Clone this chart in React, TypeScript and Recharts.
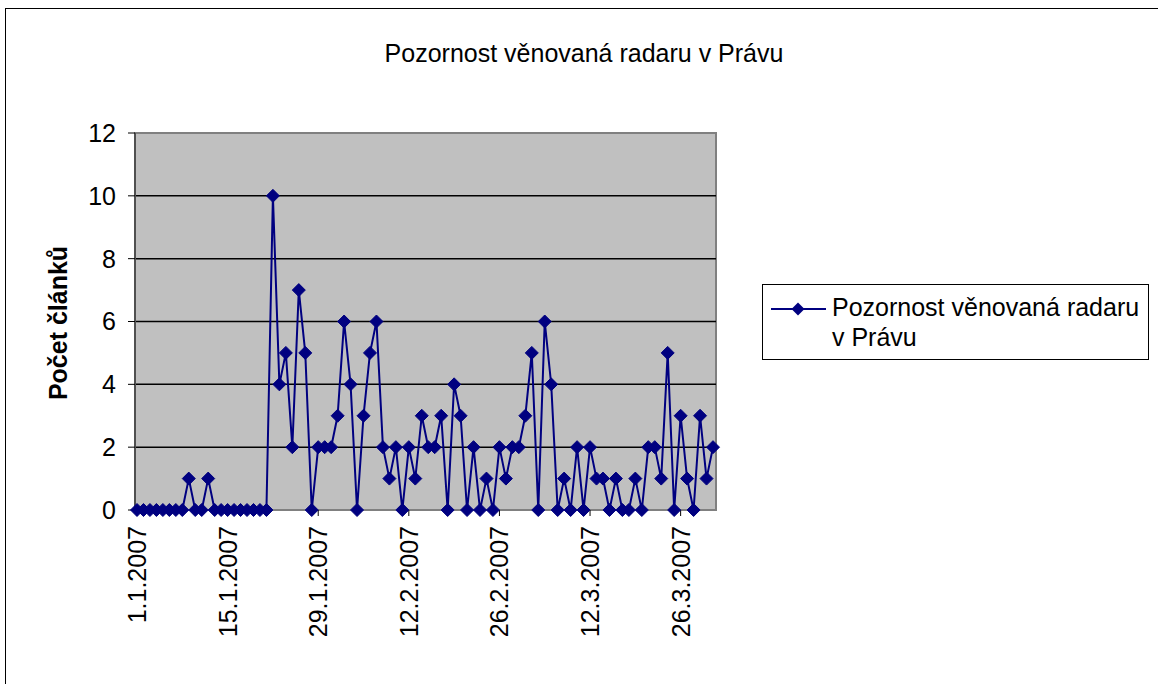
import { LineChart, Line, XAxis, YAxis, CartesianGrid, Legend } from "recharts";

const monthLengths = [31, 28, 31];
const dates: string[] = [];
monthLengths.forEach((len, m) => {
  for (let d = 1; d <= len; d++) dates.push(`${d}.${m + 1}.2007`);
});

// articles per day, 1.1.2007 - 31.3.2007
const counts = [
  0, 0, 0, 0, 0, 0, 0, 0, 1, 0, 0, 1, 0, 0, 0, 0, 0, 0, 0, 0, 0,
  10, 4, 5, 2, 7, 5, 0, 2, 2, 2,
  3, 6, 4, 0, 3, 5, 6, 2, 1, 2,
  0, 2, 1, 3, 2, 2, 3, 0, 4, 3,
  0, 2, 0, 1, 0, 2, 1, 2, 2, 3,
  5, 0, 6, 4, 0, 1, 0, 2, 0, 2,
  1, 1, 0, 1, 0, 0, 1, 0, 2, 2,
  1, 5, 0, 3, 1, 0, 3, 1, 2,
];

const dateTicks = ["1.1.2007", "15.1.2007", "29.1.2007", "12.2.2007", "26.2.2007", "12.3.2007", "26.3.2007"];
const yTicks = [0, 2, 4, 6, 8, 10, 12];
const gridValues = [2, 4, 6, 8, 10];
const seriesName = "Pozornost věnovaná radaru v Právu";
const yLabel = "Počet článků";

const data = dates.map((date, i) => ({ date, count: counts[i] }));

const NAVY = "#000080";
const FONT = "'Liberation Sans', Arial, sans-serif";

const Diamond = (props: any) => {
  const { cx, cy, index } = props;
  const r = 6.5;
  return (
    <polygon
      key={index}
      points={`${cx},${cy - r} ${cx + r},${cy} ${cx},${cy + r} ${cx - r},${cy}`}
      fill={NAVY}
      stroke={NAVY}
      strokeWidth={1}
    />
  );
};

const DateTick = (props: any) => {
  const { x, y, payload } = props;
  return (
    <text
      x={x}
      y={y}
      transform={`rotate(-90, ${x}, ${y})`}
      textAnchor="end"
      dy="0.36em"
      fontSize={25}
      fill="#000"
    >
      {payload.value}
    </text>
  );
};

const renderLegend = () => (
  <div
    style={{
      width: 387,
      height: 76,
      boxSizing: "border-box",
      border: "1.5px solid #000",
      background: "#fff",
      position: "relative",
    }}
  >
    <svg width={60} height={40} style={{ position: "absolute", left: 7, top: 4 }}>
      <line x1={1} y1={20} x2={56} y2={20} stroke={NAVY} strokeWidth={2} />
      <polygon points="28,13.5 34.5,20 28,26.5 21.5,20" fill={NAVY} />
    </svg>
    <div
      style={{
        position: "absolute",
        left: 69,
        top: 7,
        width: 314,
        fontSize: 25,
        lineHeight: "30px",
        color: "#000",
      }}
    >
      {seriesName}
    </div>
  </div>
);

export default function App() {
  return (
    <div
      style={{
        position: "absolute",
        left: 0,
        top: 0,
        width: 1158,
        height: 684,
        overflow: "hidden",
        background: "#fff",
        fontFamily: FONT,
      }}
    >
      <div
        style={{
          position: "absolute",
          left: 5,
          top: 8,
          width: 1170,
          height: 700,
          border: "1.5px solid #000",
        }}
      />
      <div
        style={{
          position: "absolute",
          left: 0,
          width: 1168,
          top: 38,
          textAlign: "center",
          fontSize: 25,
          lineHeight: "30px",
          color: "#000",
        }}
      >
        {seriesName}
      </div>
      <div
        style={{
          position: "absolute",
          left: 134,
          top: 132,
          width: 583,
          height: 379,
          boxSizing: "border-box",
          background: "#C0C0C0",
          border: "2px solid #808080",
        }}
      />
      <div
        style={{
          position: "absolute",
          left: 58,
          top: 323,
          transform: "translate(-50%, -50%) rotate(-90deg)",
          fontSize: 25,
          fontWeight: "bold",
          whiteSpace: "nowrap",
          color: "#000",
        }}
      >
        {yLabel}
      </div>
      <div style={{ position: "absolute", left: 0, top: 0 }}>
        <LineChart
          width={1158}
          height={684}
          data={data}
          margin={{ top: 133, right: 442, bottom: 54, left: 75 }}
        >
          <CartesianGrid
            horizontal
            vertical={false}
            horizontalValues={gridValues}
            stroke="#000"
            strokeWidth={1.5}
          />
          <XAxis
            dataKey="date"
            ticks={dateTicks}
            interval={0}
            height={120}
            padding={{ left: 2, right: 3 }}
            tick={<DateTick />}
            tickSize={6}
            tickMargin={10}
            tickLine={{ stroke: "#000" }}
            axisLine={{ stroke: "#808080", strokeWidth: 2 }}
          />
          <YAxis
            width={60}
            domain={[0, 12]}
            ticks={yTicks}
            interval={0}
            tickSize={7}
            tickMargin={12}
            tick={{ fontSize: 25, fill: "#000" }}
            tickLine={{ stroke: "#000" }}
            axisLine={{ stroke: "#505050", strokeWidth: 2 }}
          />
          <Legend
            layout="vertical"
            align="center"
            verticalAlign="middle"
            content={renderLegend}
            wrapperStyle={{ left: 762, top: 284, width: 387, height: 76 }}
          />
          <Line
            type="linear"
            dataKey="count"
            name={seriesName}
            stroke={NAVY}
            strokeWidth={2}
            dot={<Diamond />}
            activeDot={false}
            isAnimationActive={false}
          />
        </LineChart>
      </div>
    </div>
  );
}
